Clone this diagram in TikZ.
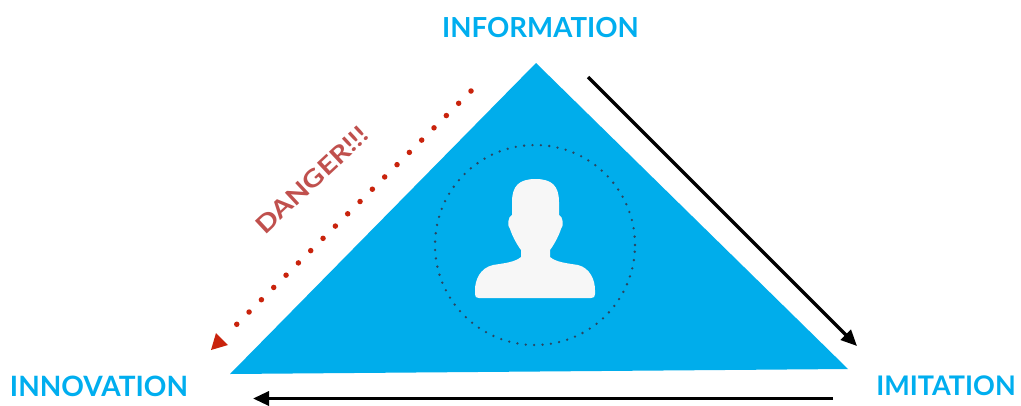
\documentclass[tikz,border=0pt]{standalone}
\usepackage{fontspec}
\setmainfont{Lato}
\usetikzlibrary{arrows.meta}
\definecolor{cyanb}{HTML}{00AEEF}
\definecolor{tri}{HTML}{00ADEB}
\definecolor{dangertext}{HTML}{C0504D}
\definecolor{dotred}{HTML}{C9230C}
\definecolor{slate}{HTML}{2A4560}
\begin{document}
\begin{tikzpicture}[x=1pt,y=-1pt,
  label/.style={text=cyanb,font=\bfseries,inner sep=0pt,anchor=center},
  blackarrow/.style={line width=3.3pt,-{Triangle[length=16pt,width=14pt]}},
  reddots/.style={dotred,line width=5.5pt,line cap=round,dash pattern=on 0pt off 17.4pt},
]
\useasboundingbox (0,0) rectangle (1021,405);
\fill[white] (0,0) rectangle (1021,405);
% triangle
\coordinate (apex) at (536,63);
\coordinate (right) at (848,369);
\coordinate (left) at (230,374);
\fill[tri] (apex) -- (right) -- (left) -- cycle;
% dotted circle
\node (ring) [circle,minimum size=200pt,draw=slate,line width=2.6pt,dash pattern=on 0pt off 8.4pt,line cap=round] at (535,245) {};
% person icon
\fill[white!97!black] (535.5,179)
  .. controls (552,179) and (559,186) .. (559,202)
  -- (559,215) .. controls (563,216) and (564,226) .. (561,229)
  .. controls (558,238) and (553,246) .. (550,250)
  -- (550,257) .. controls (556,262) and (565,263) .. (578,265)
  .. controls (590,268) and (595,280) .. (595,290)
  -- (595,294) .. controls (595,297) and (594,298) .. (591,298)
  -- (479,298) .. controls (476,298) and (475,297) .. (475,294)
  -- (475,290) .. controls (475,280) and (480,268) .. (493,265)
  .. controls (506,263) and (515,262) .. (521,257)
  -- (521,250) .. controls (518,246) and (513,238) .. (510,229)
  .. controls (507,226) and (508,216) .. (512,215)
  -- (512,202) .. controls (512,186) and (519,179) .. (535.5,179) -- cycle;
% labels
\node[label,font=\bfseries\fontsize{27.6}{29}\selectfont] (info) at (540.5,28) {INFORMATION};
\node[label,font=\bfseries\fontsize{27}{28}\selectfont] (imit) at (946,386) {IMITATION};
\node[label,font=\bfseries\fontsize{28}{29}\selectfont] (innov) at (99,386) {INNOVATION};
% arrows
\coordinate (a1s) at (588,77);
\coordinate (a1e) at (857,346);
\draw[blackarrow] (a1s) -- (a1e);
\coordinate (a2s) at (833,398.5);
\coordinate (a2e) at (253,398.5);
\draw[blackarrow] (a2s) -- (a2e);
% danger dotted arrow
\coordinate (d1) at (471,91);
\coordinate (d2) at (228.5,332.5);
\coordinate (d3) at (211,350);
\draw[reddots] (d1) -- (d2);
\fill[dotred] (d3) -- ++(5,-17) -- ++(12,12) -- cycle;
\node[text=dangertext,font=\bfseries\fontsize{24}{24}\selectfont,rotate=43,inner sep=0pt] (danger) at (312,180) {\scalebox{1.2}[1]{DANGER!!!}};
\end{tikzpicture}
\end{document}
